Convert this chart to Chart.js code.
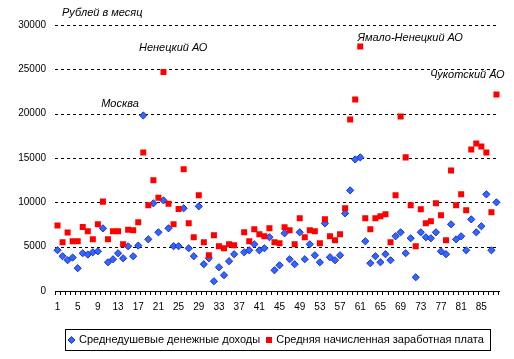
<!DOCTYPE html>
<html><head><meta charset="utf-8">
<script src="https://cdn.jsdelivr.net/npm/chart.js@4/dist/chart.umd.min.js"></script>
<style>html,body{margin:0;padding:0;background:#fff}canvas{display:block}</style>
</head><body>
<canvas id="c" width="514" height="359"></canvas>
<script>
// ---- data ----
const categories = ['1','2','3','4','5','6','7','8','9','10','11','12','13','14','15','16','17','18','19','20',
 '21','22','23','24','25','26','27','28','29','30','31','32','33','34','35','36','37','38','39','40',
 '41','42','43','44','45','46','47','48','49','50','51','52','53','54','55','56','57','58','59','60',
 '61','62','63','64','65','66','67','68','69','70','71','72','73','74','75','76','77','78','79','80',
 '81','82','83','84','85','86','87','88'];
const seriesNames = ['Среднедушевые денежные доходы', 'Средняя начисленная заработная плата'];
const income = [4600,3920,3470,3770,2570,4260,4110,4370,4480,7070,
 3240,3580,4260,3690,5040,3920,5120,19800,5830,9890,
 6620,10220,7070,5050,5050,9330,4820,3920,9550,3020,
 3690,1100,2680,1780,3360,4150,null,4370,4590,5270,
 4590,4820,6060,2340,2900,6510,3580,3020,6620,3580,
 5270,4030,3240,7630,3810,3470,4030,8760,11350,14840,
 15070,5610,3130,3920,3240,4150,3470,6170,6620,4260,
 5950,1550,6620,6060,5950,6620,4480,4150,7520,5830,
 6170,4590,8080,6620,7300,10900,4590,10000];
const salary = [7380,5500,6590,5610,5610,7230,6740,5830,7520,10080,
 5830,6740,6740,5270,6920,6850,7750,15630,9660,12480,
 10530,24700,9850,7520,9250,13720,7630,6060,10790,5500,
 4030,6280,5050,4820,5270,5160,null,6620,5610,6960,
 6400,6170,7070,5500,5380,7180,6850,5270,8200,6060,
 6850,6740,5380,8080,6170,5720,6400,9330,19350,21600,
 27570,8200,6960,8200,8420,8650,5500,10790,19680,15070,
 9660,5050,9210,7630,7860,9890,8540,5720,13600,9660,
 10900,9100,15970,16640,16300,15630,8870,22160];
const yTicks = [0,5000,10000,15000,20000,25000,30000];
const yTitle = 'Рублей в месяц';
const noteNames = ['Москва','Ненецкий АО','Ямало-Ненецкий АО','Чукотский АО'];
const noteCategory = [18,22,61,88];
const noteSeries = [0,1,1,1];

// ---- layout / style (not data) ----
const FONT = '"Liberation Sans", Arial, sans-serif';
const noteStyle = [
  {align:'right', dx:-4.5, dy:-11.5},
  {align:'left', dx:-24.5, dy:-23.7},
  {align:'left', dx:-2.7, dy:-8.7},
  {align:'right', dx:8, dy:-19.7}
];
const BLUE_FILL = '#3366ff', BLUE_EDGE = '#1a2fd0', RED = '#ff0000';

function drawDiamond(ctx, x, y, r){
  ctx.beginPath();
  ctx.moveTo(x, y - r); ctx.lineTo(x + r, y); ctx.lineTo(x, y + r); ctx.lineTo(x - r, y); ctx.closePath();
  ctx.fillStyle = BLUE_FILL; ctx.fill();
  ctx.strokeStyle = BLUE_EDGE; ctx.lineWidth = 1; ctx.stroke();
}

const dashedGridPlugin = {
  id: 'dashedGrid',
  beforeDatasetsDraw(chart){
    const ctx = chart.ctx, ca = chart.chartArea, ys = chart.scales.y;
    ctx.save();
    ctx.fillStyle = '#000';
    const x0 = Math.round(ca.left), x1 = Math.round(ca.right) - 2;
    yTicks.forEach(v => {
      if (v === 0) return;
      const py = Math.round(ys.getPixelForValue(v));
      for (let x = x0; x < x1; x += 6) {
        ctx.fillRect(x, py, Math.min(3, x1 - x), 1);
      }
    });
    ctx.restore();
  }
};

const notesPlugin = {
  id: 'notes',
  afterDatasetsDraw(chart){
    const ctx = chart.ctx, ca = chart.chartArea, xs = chart.scales.x, ys = chart.scales.y;
    const series = [income, salary];
    ctx.save();
    ctx.font = 'italic 11px ' + FONT;
    ctx.fillStyle = '#000';
    ctx.textBaseline = 'middle';
    ctx.textAlign = 'left';
    ctx.fillText(yTitle, ca.left + 7, ca.top - 12);
    noteNames.forEach((name, k) => {
      const idx = noteCategory[k] - 1;
      const px = xs.getPixelForValue(idx);
      const py = ys.getPixelForValue(series[noteSeries[k]][idx]);
      const st = noteStyle[k];
      ctx.textAlign = st.align;
      ctx.fillText(name, px + st.dx, py + st.dy);
    });
    ctx.restore();
  }
};

const legendPlugin = {
  id: 'boxLegend',
  afterDraw(chart){
    const ctx = chart.ctx, ca = chart.chartArea;
    ctx.save();
    ctx.font = '11px ' + FONT;
    const w1 = ctx.measureText(seriesNames[0]).width;
    const w2 = ctx.measureText(seriesNames[1]).width;
    const padL = 3, mk = 7, gap = 4, between = 5, padR = 6;
    const total = Math.round(padL + mk + gap + w1 + between + mk + gap + w2 + padR);
    const cx = (ca.left + ca.right) / 2;
    const left = Math.round(cx - total / 2);
    const top = chart.height - 30, h = 21;
    ctx.strokeStyle = '#000'; ctx.lineWidth = 1;
    ctx.strokeRect(left + 0.5, top + 0.5, total, h);
    const cy = top + h / 2 + 0.5;
    let x = left + padL;
    drawDiamond(ctx, x + mk / 2, cy, 3.5);
    x += mk + gap;
    ctx.fillStyle = '#000'; ctx.textBaseline = 'middle'; ctx.textAlign = 'left';
    ctx.fillText(seriesNames[0], x, cy);
    x += w1 + between;
    ctx.fillStyle = RED;
    ctx.fillRect(Math.round(x + 0.5), Math.round(cy - 3), 6, 6);
    x += mk + gap;
    ctx.fillStyle = '#000';
    ctx.fillText(seriesNames[1], x, cy);
    ctx.restore();
  }
};

Chart.defaults.font.family = FONT;
Chart.defaults.color = '#000';

new Chart(document.getElementById('c'), {
  type: 'line',
  data: {
    labels: categories,
    datasets: [
      { label: seriesNames[0], data: income, showLine: false, order: 1,
        pointStyle: 'rectRot', pointRadius: 3.6, pointHoverRadius: 3.6,
        backgroundColor: BLUE_FILL, borderColor: BLUE_EDGE, pointBorderWidth: 1 },
      { label: seriesNames[1], data: salary, showLine: false, order: 0,
        pointStyle: 'rect', pointRadius: 4.25, pointHoverRadius: 4.25,
        backgroundColor: RED, borderColor: RED, pointBorderWidth: 0 }
    ]
  },
  options: {
    responsive: false, animation: false, devicePixelRatio: 1,
    layout: { padding: { left: 0, right: 15, top: 25, bottom: 0 } },
    plugins: { legend: { display: false }, tooltip: { enabled: false } },
    scales: {
      x: {
        type: 'category', offset: true,
        afterFit(s){ s.height = 68; },
        grid: { offset: true, drawOnChartArea: false, drawTicks: true, tickLength: 4, color: '#000', lineWidth: 1 },
        border: { display: true, color: '#000', width: 1 },
        ticks: { autoSkip: false, maxRotation: 0, minRotation: 0, padding: 6,
          font: { size: 10 }, color: '#000',
          callback(v, i){ return i % 4 === 0 ? categories[i] : ''; } }
      },
      y: {
        min: 0, max: 30000,
        afterFit(s){ s.width = 55; },
        afterBuildTicks(s){ s.ticks = yTicks.map(v => ({ value: v })); },
        grid: { display: false, drawTicks: false },
        border: { display: false },
        ticks: { padding: 9, font: { size: 10 }, color: '#000', callback(v){ return String(v); } }
      }
    }
  },
  plugins: [dashedGridPlugin, notesPlugin, legendPlugin]
});
</script>
</body></html>
